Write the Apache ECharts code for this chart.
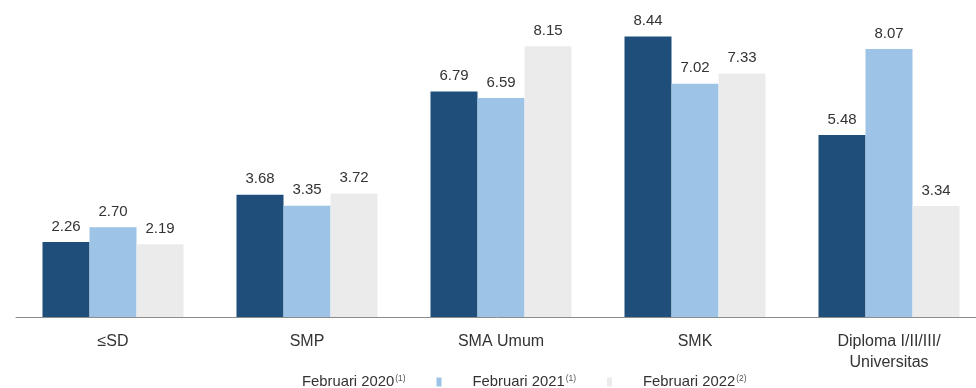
<!DOCTYPE html>
<html>
<head>
<meta charset="utf-8">
<script src="https://cdn.jsdelivr.net/npm/echarts@6/dist/echarts.min.js"></script>
<style>
  html, body { margin: 0; padding: 0; background: #fff; }
  #chart { width: 976px; height: 388px; }
</style>
</head>
<body>
<div id="chart"></div>
<script>
// data
const categories = ['≤SD', 'SMP', 'SMA Umum', 'SMK', 'Diploma I/II/III/\nUniversitas']
const feb2020 = [2.26, 3.68, 6.79, 8.44, 5.48]
const feb2021 = [2.70, 3.35, 6.59, 7.02, 8.07]
const feb2022 = [2.19, 3.72, 8.15, 7.33, 3.34]
const seriesNames = ['Februari 2020', 'Februari 2021', 'Februari 2022']
const footnotes = ['(1)', '(1)', '(2)']

const colors = ['#1f4e7a', '#9dc3e6', '#ebebeb']
const fontFamily = "'Liberation Sans', Arial, sans-serif"

const chart = echarts.init(document.getElementById('chart'))

const makeSeries = (name, data, i) => ({
  name: name,
  type: 'bar',
  data: data,
  barWidth: 47,
  barGap: '0%',
  itemStyle: { color: colors[i] },
  label: {
    show: true,
    position: 'top',
    distance: 8,
    color: '#333',
    fontSize: 15,
    fontFamily: fontFamily,
    formatter: p => p.value.toFixed(2)
  }
})

chart.setOption({
  animation: false,
  color: colors,
  // plot runs a bit past the right edge, like the source image
  grid: { left: 16, width: 970, top: 18, bottom: 71, outerBoundsMode: 'none', containLabel: false },
  xAxis: {
    type: 'category',
    data: categories,
    axisTick: { show: false },
    axisLine: { lineStyle: { color: '#8c8c8c', width: 1 } },
    axisLabel: {
      color: '#333',
      fontSize: 16,
      lineHeight: 21,
      margin: 14,
      fontFamily: fontFamily
    }
  },
  yAxis: {
    type: 'value',
    min: 0,
    max: 9,
    show: false,
    splitLine: { show: false }
  },
  legend: {
    left: 261,
    top: 369,
    itemWidth: 5,
    itemHeight: 9,
    itemGap: 31,
    icon: 'rect',
    data: seriesNames.map((n, i) => ({
      name: n,
      itemStyle: i === 0 ? { opacity: 0 } : { color: colors[i] }
    })),
    formatter: name => '{t|' + name + '}{s|' + footnotes[seriesNames.indexOf(name)] + '}',
    textStyle: {
      padding: [0, 0, 0, 26],
      rich: {
        t: { fontSize: 14.8, color: '#333', fontFamily: fontFamily },
        s: { fontSize: 8.5, color: '#555', fontFamily: fontFamily, padding: [0, 0, 7, 1] }
      }
    }
  },
  series: [
    makeSeries(seriesNames[0], feb2020, 0),
    makeSeries(seriesNames[1], feb2021, 1),
    makeSeries(seriesNames[2], feb2022, 2)
  ]
})
</script>
</body>
</html>
